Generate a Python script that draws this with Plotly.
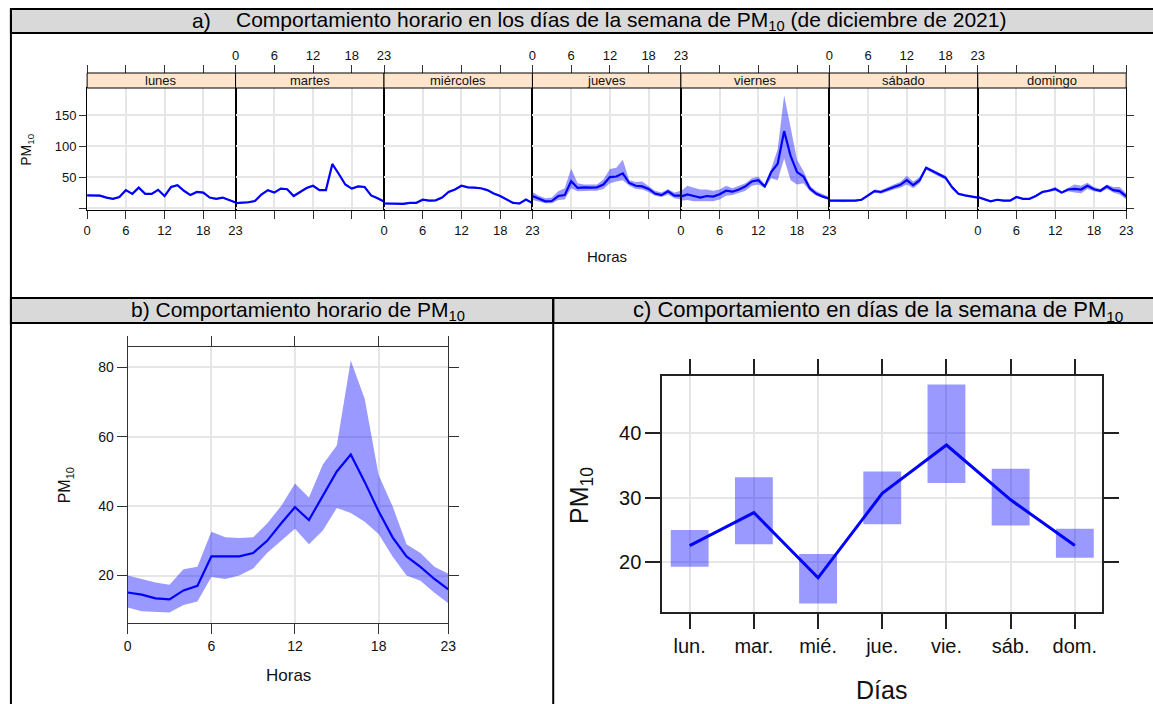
import plotly.graph_objects as go

W, H = 1153, 704

hours = list(range(24))
hour_ticks = [0, 6, 12, 18, 23]
day_names = ["lunes", "martes", "miércoles", "jueves", "viernes", "sábado", "domingo"]

lun_mean = [20.5, 20.5, 20, 17, 15, 18, 29, 23, 33, 23, 23, 29.5, 19.5, 34, 37, 28, 21, 26, 25, 17, 15, 17, 12.5, 9]
lun_lo = [19, 19, 18.5, 15.5, 13.5, 16.5, 27.5, 21.5, 31.5, 21.5, 21.5, 28, 18, 32.5, 35.5, 26.5, 19.5, 24.5, 23.5, 15.5, 13.5, 15.5, 11, 7.5]
lun_hi = [22, 22, 21.5, 18.5, 16.5, 19.5, 30.5, 24.5, 34.5, 24.5, 24.5, 31, 21, 35.5, 38.5, 29.5, 22.5, 27.5, 26.5, 18.5, 16.5, 18.5, 14, 10.5]

mar_mean = [8, 8.5, 9.5, 11.5, 22, 29, 25, 31.5, 30.5, 19.5, 26, 32.5, 36, 29, 29, 71, 55, 38, 31.5, 35, 34, 20.5, 16, 10.5]
mar_lo = [6.5, 7, 8, 10, 20.5, 27.5, 23.5, 30, 29, 18, 24.5, 31, 34.5, 27.5, 27.5, 69, 53, 36.5, 30, 33.5, 32.5, 19, 14.5, 9]
mar_hi = [9.5, 10, 11, 13, 23.5, 30.5, 26.5, 33, 32, 21, 27.5, 34, 37.5, 30.5, 30.5, 73, 57, 39.5, 33, 36.5, 35.5, 22, 17.5, 12]

mie_mean = [7.5, 7, 7.5, 7, 8.5, 8.5, 13.5, 12, 12.5, 17, 26, 30, 36, 33.5, 33, 32, 29, 23.5, 19.5, 14, 8.5, 7.5, 14, 8]
mie_lo = [6, 5.5, 6, 5.5, 7, 7, 12, 10.5, 11, 15.5, 24.5, 28.5, 34.5, 32, 31.5, 30.5, 27.5, 22, 18, 12.5, 7, 6, 12.5, 6.5]
mie_hi = [9, 8.5, 9, 8.5, 10, 10, 15, 13.5, 14, 18.5, 27.5, 31.5, 37.5, 35, 34.5, 33.5, 30.5, 25, 21, 15.5, 10, 9, 15.5, 9.5]

jue_mean = [19.5, 15, 11, 11.5, 19.5, 21, 43.5, 32.5, 33.5, 33, 33.5, 38, 50, 51, 56, 40.5, 36, 35, 31, 23.5, 21, 27, 20, 20]
jue_lo = [13, 11, 8, 8, 13, 14, 32, 27, 28, 28, 28, 31, 40, 43, 45, 36, 31, 30, 26, 20, 18, 22, 16, 14]
jue_hi = [26, 20, 16, 17, 27, 32, 64, 40, 38, 38, 38, 46, 63, 65, 78, 45, 42, 43, 36, 28, 25, 31, 25, 28]

vie_mean = [18.5, 22, 19.5, 17, 19.5, 18.5, 22.5, 28, 26.5, 30, 35, 43, 45, 35, 58, 71.5, 124, 84, 58, 51, 31.5, 23, 18.5, 15]
vie_lo = [12, 13, 11, 10, 11, 11, 14, 20, 21, 24, 28, 36, 38, 32, 48, 45, 80, 45, 38, 40, 27, 20, 16, 13]
vie_hi = [27, 36, 33, 30, 30, 28, 30, 36, 32, 36, 40, 48, 51, 38, 64, 95, 182, 130, 78, 60, 36, 27, 22, 18]

sab_mean = [12, 12, 11, 11.5, 12, 13.5, 20.5, 27.5, 26, 30.5, 34, 37.5, 45, 37, 45, 65, 59.5, 54, 49, 34, 23, 20.5, 18.5, 17]
sab_lo = [10.5, 10.5, 9.5, 10, 10.5, 12, 18.5, 25, 23, 27, 30, 33, 38, 32, 40, 62, 57, 51, 46, 31, 21, 19, 17, 15.5]
sab_hi = [13.5, 13.5, 12.5, 13, 13.5, 15, 22.5, 30, 29, 34, 38, 42, 52, 43, 50, 67, 62, 57, 52, 37, 25, 22, 20, 18.5]

dom_mean = [18, 14, 11, 13.5, 12, 12, 18, 15, 15, 19.5, 26, 28, 31, 25, 30, 31, 30, 36, 30.5, 28, 35, 29, 27.5, 19]
dom_lo = [16.5, 12.5, 9.5, 12, 10.5, 10.5, 16.5, 13.5, 13.5, 18, 24, 26, 28, 23, 27, 25, 24, 31, 27, 25, 31, 25, 22, 14]
dom_hi = [19.5, 15.5, 12.5, 15, 13.5, 13.5, 19.5, 16.5, 16.5, 21, 28, 30, 34, 27, 33, 38, 36, 41, 34, 31, 38, 34, 34, 24]

hour_mean = [15.1, 14.5, 13.4, 13.1, 15.7, 17, 25.5, 25.5, 25.5, 26.5, 30, 35, 39.7, 36, 43, 50, 54.9, 47, 38.5, 31, 25.5, 22.5, 19, 16]
hour_lo = [10.8, 9.7, 9.5, 9.3, 11.5, 12.5, 19.6, 19, 20, 22, 26.5, 30, 33.5, 29, 33, 39.5, 38, 35.5, 32, 25.5, 20, 18.5, 15, 12]
hour_hi = [20, 19, 18, 17.3, 21.8, 22.5, 32.6, 31, 30.8, 31, 35, 40, 46.5, 42.5, 52, 57.5, 82, 71, 49, 40, 29, 26.5, 22.5, 20.5]

wd_labels = ["lun.", "mar.", "mié.", "jue.", "vie.", "sáb.", "dom."]
wd_mean = [22.6, 27.7, 17.6, 30.7, 38.2, 29.7, 22.6]
wd_lo = [19.3, 22.8, 13.6, 25.9, 32.3, 25.7, 20.7]
wd_hi = [25.0, 33.2, 21.3, 34.1, 47.6, 34.5, 25.2]

day_series = [
    (lun_mean, lun_lo, lun_hi), (mar_mean, mar_lo, mar_hi), (mie_mean, mie_lo, mie_hi),
    (jue_mean, jue_lo, jue_hi), (vie_mean, vie_lo, vie_hi), (sab_mean, sab_lo, sab_hi),
    (dom_mean, dom_lo, dom_hi),
]

BLUE = "#0000ff"
BAND = "rgba(0,0,255,0.4)"
GRID = "#e6e6e6"
AX = "#333333"
FONT = "Liberation Sans, Arial, sans-serif"


def px(x):
    return x / W


def py(y):
    return 1 - y / H


fig = go.Figure()
layout = dict(
    width=W, height=H, margin=dict(l=0, r=0, t=0, b=0),
    paper_bgcolor="white", plot_bgcolor="white", showlegend=False,
    font=dict(family=FONT, color="#111111", size=12),
)

# ---------------- panel a ----------------
a_left, a_w = 84, 150
a_top, a_bot, strip_top = 88, 210, 73
for i, (m, lo, hi) in enumerate(day_series):
    n = i + 1
    xa = "x" if n == 1 else f"x{n}"
    ya = "y" if n == 1 else f"y{n}"
    fig.add_trace(go.Scatter(x=hours + hours[::-1], y=hi + lo[::-1], fill="toself",
                             fillcolor=BAND, line=dict(width=0), mode="lines",
                             hoverinfo="skip", xaxis=xa, yaxis=ya))
    fig.add_trace(go.Scatter(x=hours, y=m, mode="lines", line=dict(color=BLUE, width=2.2),
                             xaxis=xa, yaxis=ya))
    dom = [px(a_left + a_w * i), px(a_left + a_w * (i + 1))]
    bottom_labels = (i % 2 == 0)
    layout["xaxis" if n == 1 else f"xaxis{n}"] = dict(
        domain=dom, range=[0, 23], anchor=ya, tickvals=hour_ticks,
        showticklabels=bottom_labels, ticks="outside", ticklen=8, tickcolor=AX,
        showline=True, linecolor="black", linewidth=1, mirror=True,
        showgrid=True, gridcolor=GRID, gridwidth=1.5, zeroline=False,
        tickfont=dict(size=13), fixedrange=True)
    yd = dict(domain=[py(a_bot), py(a_top)], range=[-3, 193.5], anchor=xa,
              tickvals=[0, 50, 100, 150], ticktext=["", "50", "100", "150"],
              showline=True, linecolor="black", linewidth=1, mirror=True,
              showgrid=True, gridcolor=GRID, gridwidth=1.5, zeroline=False,
              tickfont=dict(size=13), fixedrange=True)
    if n == 1:
        yd.update(ticks="outside", ticklen=7, tickcolor=AX, showticklabels=True, side="left")
    elif n == 7:
        yd.update(ticks="outside", ticklen=7, tickcolor=AX, showticklabels=False, side="right")
    else:
        yd.update(ticks="", showticklabels=False)
    layout["yaxis" if n == 1 else f"yaxis{n}"] = yd

    # top axis above the strip
    tn = 7 + n
    fig.add_trace(go.Scatter(x=hours, y=m, mode="lines", opacity=0, hoverinfo="skip",
                             line=dict(width=0), xaxis=f"x{tn}", yaxis=ya))
    layout[f"xaxis{tn}"] = dict(
        overlaying=xa, side="top", anchor="free", position=py(strip_top),
        range=[0, 23], tickvals=hour_ticks, showticklabels=not bottom_labels,
        ticks="outside", ticklen=8, tickcolor=AX, showline=False, showgrid=False,
        zeroline=False, tickfont=dict(size=13), fixedrange=True)

# ---------------- panel b ----------------
fig.add_trace(go.Scatter(x=hours + hours[::-1], y=hour_hi + hour_lo[::-1], fill="toself",
                         fillcolor=BAND, line=dict(width=0), mode="lines",
                         hoverinfo="skip", xaxis="x15", yaxis="y8"))
fig.add_trace(go.Scatter(x=hours, y=hour_mean, mode="lines", line=dict(color=BLUE, width=2.2),
                         xaxis="x15", yaxis="y8"))
layout["xaxis15"] = dict(domain=[px(125), px(449)], range=[0, 23], anchor="y8",
                         tickvals=hour_ticks, ticks="outside", ticklen=10, tickcolor=AX,
                         showline=True, linecolor=AX, linewidth=1.2, mirror="ticks",
                         showgrid=True, gridcolor=GRID, gridwidth=1.5, zeroline=False,
                         tickfont=dict(size=14), fixedrange=True)
layout["yaxis8"] = dict(domain=[py(623), py(347)], range=[6.3, 85.9], anchor="x15",
                        tickvals=[20, 40, 60, 80], ticks="outside", ticklen=10, tickcolor=AX,
                        showline=True, linecolor=AX, linewidth=1.2, mirror="ticks",
                        showgrid=True, gridcolor=GRID, gridwidth=1.5, zeroline=False,
                        tickfont=dict(size=14), fixedrange=True)

# ---------------- panel c ----------------
wd_idx = list(range(len(wd_labels)))
fig.add_trace(go.Bar(x=wd_idx, y=[h - l for h, l in zip(wd_hi, wd_lo)], base=wd_lo,
                     width=0.59, marker=dict(color=BAND, line=dict(width=0)),
                     hoverinfo="skip", xaxis="x16", yaxis="y9"))
fig.add_trace(go.Scatter(x=wd_idx, y=wd_mean, mode="lines", line=dict(color=BLUE, width=3),
                         xaxis="x16", yaxis="y9"))
layout["xaxis16"] = dict(domain=[px(665), px(1110)], range=[-0.43, 6.43], anchor="y9",
                         tickvals=wd_idx, ticktext=wd_labels, ticks="outside", ticklen=15,
                         tickwidth=1.5, tickcolor="#222222",
                         showline=True, linecolor="#222222", linewidth=1.5, mirror="ticks",
                         showgrid=True, gridcolor=GRID, gridwidth=1.5, zeroline=False,
                         tickfont=dict(size=20), fixedrange=True)
layout["yaxis9"] = dict(domain=[py(612), py(376)], range=[12.3, 48.9], anchor="x16",
                        tickvals=[20, 30, 40], ticks="outside", ticklen=15, tickwidth=1.5,
                        tickcolor="#222222",
                        showline=True, linecolor="#222222", linewidth=1.5, mirror="ticks",
                        showgrid=True, gridcolor=GRID, gridwidth=1.5, zeroline=False,
                        tickfont=dict(size=20), fixedrange=True)

# ---------------- shapes ----------------
shapes = []
for i, name in enumerate(day_names):
    shapes.append(dict(type="rect", xref="paper", yref="paper",
                       x0=px(a_left + a_w * i), x1=px(a_left + a_w * (i + 1)),
                       y0=py(a_top), y1=py(strip_top), fillcolor="#ffe5cc",
                       line=dict(color="black", width=1), layer="above"))

TR = 1165
BOT = 712
shapes += [
    dict(type="rect", xref="paper", yref="paper", x0=px(7), x1=px(TR), y0=py(33), y1=py(9),
         fillcolor="#d9d9d9", line=dict(color="black", width=2)),
    dict(type="rect", xref="paper", yref="paper", x0=px(7), x1=px(555), y0=py(323), y1=py(298),
         fillcolor="#d9d9d9", line=dict(color="black", width=2)),
    dict(type="rect", xref="paper", yref="paper", x0=px(555), x1=px(TR), y0=py(323), y1=py(298),
         fillcolor="#d9d9d9", line=dict(color="black", width=2)),
    dict(type="line", xref="paper", yref="paper", x0=px(7), x1=px(7), y0=py(9), y1=py(BOT),
         line=dict(color="black", width=2)),
    dict(type="line", xref="paper", yref="paper", x0=px(555), x1=px(555), y0=py(298), y1=py(BOT),
         line=dict(color="black", width=2)),
]
layout["shapes"] = shapes

# ---------------- annotations ----------------
def ann(text, x, y, size, xanchor="center", angle=0, color="#111111"):
    return dict(text=text, x=px(x), y=py(y), xref="paper", yref="paper", showarrow=False,
                xanchor=xanchor, yanchor="middle", textangle=angle,
                font=dict(size=size, family=FONT, color=color))

annotations = [
    ann("a)", 188, 21, 21, xanchor="left", color="black"),
    ann("Comportamiento horario en los días de la semana de PM<sub>10</sub> (de diciembre de 2021)",
        232, 21, 21, xanchor="left", color="black"),
    ann("b) Comportamiento horario de PM<sub>10</sub>", 126, 311, 21, xanchor="left", color="black"),
    ann("c) Comportamiento en días de la semana de PM<sub>10</sub>", 634, 311, 22, xanchor="left",
        color="black"),
    ann("Horas", 609, 257, 15),
    ann("PM<sub>10</sub>", 23, 150, 14, angle=-90),
    ann("Horas", 287, 675, 17),
    ann("PM<sub>10</sub>", 62, 485, 16, angle=-90),
    ann("Días", 887, 690, 25),
    ann("PM<sub>10</sub>", 583, 495, 25, angle=-90),
]
for i, name in enumerate(day_names):
    annotations.append(ann(name, a_left + a_w * i + a_w / 2, 80.5, 13))
layout["annotations"] = annotations

fig.update_layout(**layout)
fig.write_html("out.html", config={"displayModeBar": False},
               post_script="document.body.style.margin='0';document.body.style.overflow='hidden';")
